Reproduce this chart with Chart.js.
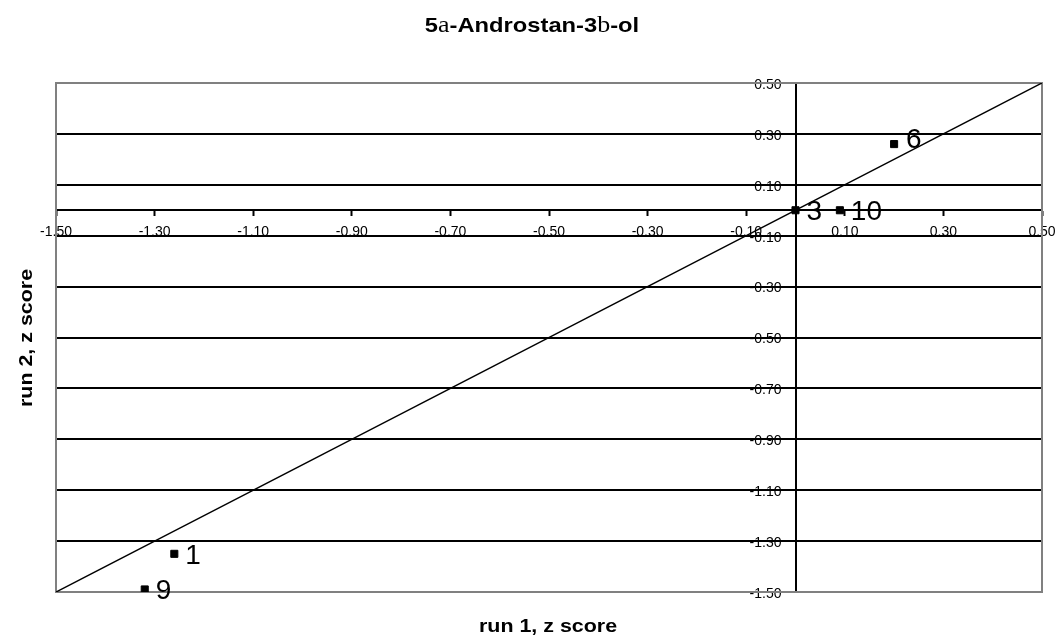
<!DOCTYPE html>
<html>
<head>
<meta charset="utf-8">
<script src="https://cdn.jsdelivr.net/npm/chart.js@4/dist/chart.umd.min.js"></script>
<style>
  html, body { margin: 0; padding: 0; background: #ffffff; }
  #wrap { width: 1055px; height: 635px; }
</style>
</head>
<body>
<div id="wrap"><canvas id="c" width="1055" height="635"></canvas></div>
<script>
// Sample identifiers and their z scores in the two runs
const sampleIds = ['1', '9', '3', '10', '6'];
const run1Z = [-1.26, -1.32, 0.00, 0.09, 0.20];
const run2Z = [-1.35, -1.49, 0.00, 0.00, 0.26];

// Tick values shared by both axes
const axisTicks = [-1.5, -1.3, -1.1, -0.9, -0.7, -0.5, -0.3, -0.1, 0.1, 0.3, 0.5];

// Ends of the run1 = run2 reference line
const identityEnds = [-1.5, 0.5];

const titleParts = [
  { text: '5', serif: false },
  { text: 'a', serif: true },
  { text: '-Androstan-3', serif: false },
  { text: 'b', serif: true },
  { text: '-ol', serif: false }
];
const xTitle = 'run 1, z score';
const yTitle = 'run 2, z score';

const SANS = '"Liberation Sans", Arial, Helvetica, sans-serif';
const SERIF = '"Liberation Serif", "Times New Roman", serif';

// Per-label nudges (pixels) for the point annotations
const labelNudge = { '6': { dx: 1, dy: -6 } };

const points = sampleIds.map((id, i) => ({ x: run1Z[i], y: run2Z[i], id }));
const identityLine = identityEnds.map(v => ({ x: v, y: v }));

const fixedTicks = scale => { scale.ticks = axisTicks.map(v => ({ value: v })); };
// Axes sit inside the plot, so their labels must not shrink the plot area
const noEdgePadding = scale => {
  scale.paddingLeft = 0; scale.paddingRight = 0;
  scale.paddingTop = 0; scale.paddingBottom = 0;
};

// Frame around the plot area, drawn over the outer grid lines
const framePlugin = {
  id: 'frame',
  beforeDatasetsDraw(chart) {
    const { ctx, chartArea: a } = chart;
    ctx.save();
    ctx.strokeStyle = '#808080';
    ctx.lineWidth = 2;
    ctx.strokeRect(Math.round(a.left), Math.round(a.top),
                   Math.round(a.right - a.left), Math.round(a.bottom - a.top));
    ctx.restore();
  }
};

// Number next to every marker
const pointLabelPlugin = {
  id: 'pointLabels',
  afterDatasetsDraw(chart) {
    const { ctx } = chart;
    const meta = chart.getDatasetMeta(0);
    ctx.save();
    ctx.fillStyle = '#000';
    ctx.font = '28px ' + SANS;
    ctx.textAlign = 'left';
    ctx.textBaseline = 'alphabetic';
    meta.data.forEach((el, i) => {
      const id = sampleIds[i];
      const n = labelNudge[id] || { dx: 0, dy: 0 };
      ctx.fillText(id, el.x + 11 + n.dx, el.y + 10 + n.dy);
    });
    ctx.restore();
  }
};

// Chart title (mixed fonts) and the two axis titles
const titlesPlugin = {
  id: 'titles',
  afterDraw(chart) {
    const { ctx } = chart;
    ctx.save();
    ctx.fillStyle = '#000';
    ctx.textBaseline = 'alphabetic';
    ctx.textAlign = 'left';

    const boldFont = 'bold 21px ' + SANS;
    const serifFont = '23px ' + SERIF;
    let total = 0;
    titleParts.forEach(p => {
      ctx.font = p.serif ? serifFont : boldFont;
      p.w = ctx.measureText(p.text).width;
      total += p.w;
    });
    ctx.translate(532, 32);
    ctx.scale(1.13, 1);
    let x = -total / 2;
    titleParts.forEach(p => {
      ctx.font = p.serif ? serifFont : boldFont;
      ctx.fillText(p.text, x, 0);
      x += p.w;
    });
    ctx.restore();

    ctx.save();
    ctx.fillStyle = '#000';
    ctx.font = 'bold 18px ' + SANS;
    ctx.textAlign = 'center';
    ctx.textBaseline = 'alphabetic';
    ctx.translate(548, 632);
    ctx.scale(1.19, 1);
    ctx.fillText(xTitle, 0, 0);
    ctx.restore();

    ctx.save();
    ctx.fillStyle = '#000';
    ctx.font = 'bold 18px ' + SANS;
    ctx.textAlign = 'center';
    ctx.textBaseline = 'alphabetic';
    ctx.translate(32, 338);
    ctx.rotate(-Math.PI / 2);
    ctx.scale(1.19, 1);
    ctx.fillText(yTitle, 0, 0);
    ctx.restore();
  }
};

new Chart(document.getElementById('c'), {
  type: 'scatter',
  data: {
    datasets: [
      {
        data: points,
        pointStyle: 'rect',
        pointRadius: 5,
        pointBackgroundColor: '#000',
        pointBorderColor: '#000',
        pointBorderWidth: 1,
        showLine: false
      },
      {
        type: 'line',
        data: identityLine,
        borderColor: '#000',
        borderWidth: 1.5,
        pointRadius: 0,
        fill: false,
        tension: 0
      }
    ]
  },
  options: {
    responsive: false,
    devicePixelRatio: 1,
    animation: false,
    events: [],
    layout: { padding: { left: 56, top: 83, right: 13, bottom: 43 } },
    plugins: {
      legend: { display: false },
      title: { display: false },
      tooltip: { enabled: false }
    },
    scales: {
      x: {
        type: 'linear',
        min: -1.5,
        max: 0.5,
        position: { y: 0 },
        afterBuildTicks: fixedTicks,
        afterFit: noEdgePadding,
        grid: { drawOnChartArea: false, drawTicks: true, tickLength: 5, tickColor: '#000', tickWidth: 2 },
        border: { display: true, color: '#000', width: 2 },
        ticks: {
          autoSkip: false,
          maxRotation: 0,
          minRotation: 0,
          padding: 8,
          color: '#000',
          font: { family: SANS, size: 14 },
          callback: v => v.toFixed(2)
        }
      },
      y: {
        type: 'linear',
        min: -1.5,
        max: 0.5,
        position: { x: 0 },
        afterBuildTicks: fixedTicks,
        afterFit: noEdgePadding,
        grid: { drawOnChartArea: true, color: '#000', lineWidth: 2, drawTicks: true, tickLength: 5, tickColor: '#000', tickWidth: 2 },
        border: { display: true, color: '#000', width: 2 },
        ticks: {
          autoSkip: false,
          padding: 6,
          labelOffset: 2,
          color: '#000',
          font: { family: SANS, size: 14 },
          // trailing gap keeps the labels clear of the tick marks
          callback: v => v.toFixed(2) + '\u2003'
        }
      }
    }
  },
  plugins: [framePlugin, pointLabelPlugin, titlesPlugin]
});
</script>
</body>
</html>
